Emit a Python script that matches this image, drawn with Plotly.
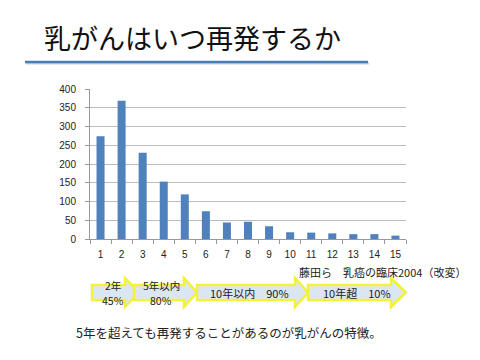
import plotly.graph_objects as go

# ---- data ----
years = [str(i) for i in range(1, 16)]
recurrences = [274, 369, 230, 153, 119, 74, 44, 46, 34, 18, 17, 15, 13, 13, 9]
y_ticks = [0, 50, 100, 150, 200, 250, 300, 350, 400]

title_text = "乳がんはいつ再発するか"
source_text = "藤田ら\u3000乳癌の臨床2004（改変）"
note_text = "5年を超えても再発することがあるのが乳がんの特徴。"
arrow_labels = [["2年", "45%"], ["5年以内", "80%"], ["10年以内\u300090%"], ["10年超\u300010%"]]

# ---- layout geometry (pixels) ----
W_PX, H_PX = 480, 360
L, R, T, B = 90, 74, 89, 121
PW = W_PX - L - R
PH = H_PX - T - B
BOTTOM = H_PX - B

def px(x):
    return (x - L) / PW

def py(y):
    return (BOTTOM - y) / PH

JP = "Noto Sans CJK JP"
NUM = "Liberation Sans, Arial"

fig = go.Figure()
fig.add_trace(go.Bar(
    x=years, y=recurrences,
    marker=dict(color="#4f81bd", line=dict(width=0)),
    width=0.38,
    hoverinfo="skip",
))

shapes = []
annotations = []

# title underline with shadow
shapes.append(dict(type="line", xref="paper", yref="paper",
                   x0=px(26), x1=px(369), y0=py(63.5), y1=py(63.5),
                   line=dict(color="rgba(0,0,0,0.18)", width=2)))
shapes.append(dict(type="line", xref="paper", yref="paper",
                   x0=px(25), x1=px(368), y0=py(62), y1=py(62),
                   line=dict(color="#4a7ebb", width=2.5)))

# arrows: (body start, head start, tip)
arrow_geom = [(92, 125, 139), (134, 184, 197), (197, 295, 308), (308, 391, 406)]
arrow_text_x = [113, 161, 249, 357]
body_top, body_bot = 285, 300
head_top, head_bot = 278, 307
mid = (head_top + head_bot) / 2
for (x0, xh, xt) in arrow_geom:
    path = (f"M {px(x0)},{py(body_top)} L {px(xh)},{py(body_top)} L {px(xh)},{py(head_top)} "
            f"L {px(xt)},{py(mid)} L {px(xh)},{py(head_bot)} L {px(xh)},{py(body_bot)} "
            f"L {px(x0)},{py(body_bot)} Z")
    shapes.append(dict(type="path", xref="paper", yref="paper", path=path,
                       fillcolor="#dce6f2", line=dict(color="#f2f23a", width=2.5)))

# arrow labels
for i, lines in enumerate(arrow_labels):
    xc = arrow_text_x[i]
    ys = [285, 300.5] if len(lines) == 2 else [293]
    for txt, yc in zip(lines, ys):
        annotations.append(dict(x=px(xc), y=py(yc), xref="paper", yref="paper",
                                text=txt, showarrow=False, xanchor="center", yanchor="middle",
                                font=dict(family=JP, size=10.5 if len(lines) == 2 else 11,
                                          color="#222")))

# title
annotations.append(dict(x=px(42), y=py(37.5), xref="paper", yref="paper", text=title_text,
                        showarrow=False, xanchor="left", yanchor="middle",
                        font=dict(family=JP, size=27, color="#111")))
# source
annotations.append(dict(x=px(297), y=py(272), xref="paper", yref="paper", text=source_text,
                        showarrow=False, xanchor="left", yanchor="middle",
                        font=dict(family=JP, size=11, color="#222")))
# note
annotations.append(dict(x=px(74), y=py(332), xref="paper", yref="paper", text=note_text,
                        showarrow=False, xanchor="left", yanchor="middle",
                        font=dict(family=JP, size=12.5, color="#222")))

fig.update_layout(
    width=W_PX, height=H_PX,
    margin=dict(l=L, r=R, t=T, b=B, pad=0),
    paper_bgcolor="white", plot_bgcolor="white",
    showlegend=False,
    shapes=shapes, annotations=annotations,
    bargap=0.6,
    xaxis=dict(type="category", tickson="boundaries", ticks="outside", ticklen=4,
               tickcolor="#999", showline=True, linecolor="#999", linewidth=1,
               showgrid=False, tickfont=dict(family=NUM, size=10, color="#222"),
               ticklabelstandoff=6, fixedrange=True),
    yaxis=dict(range=[0, 400], tickvals=y_ticks, ticks="outside", ticklen=4,
               tickcolor="#999", showline=True, linecolor="#999", linewidth=1,
               showgrid=True, gridcolor="#bdbdbd", gridwidth=1, zeroline=False,
               tickfont=dict(family=NUM, size=10, color="#222"),
               ticklabelstandoff=7, fixedrange=True),
)

fig.write_html("out.html", config={"displayModeBar": False},
               post_script="document.body.style.margin='0';document.body.style.overflow='hidden';")
